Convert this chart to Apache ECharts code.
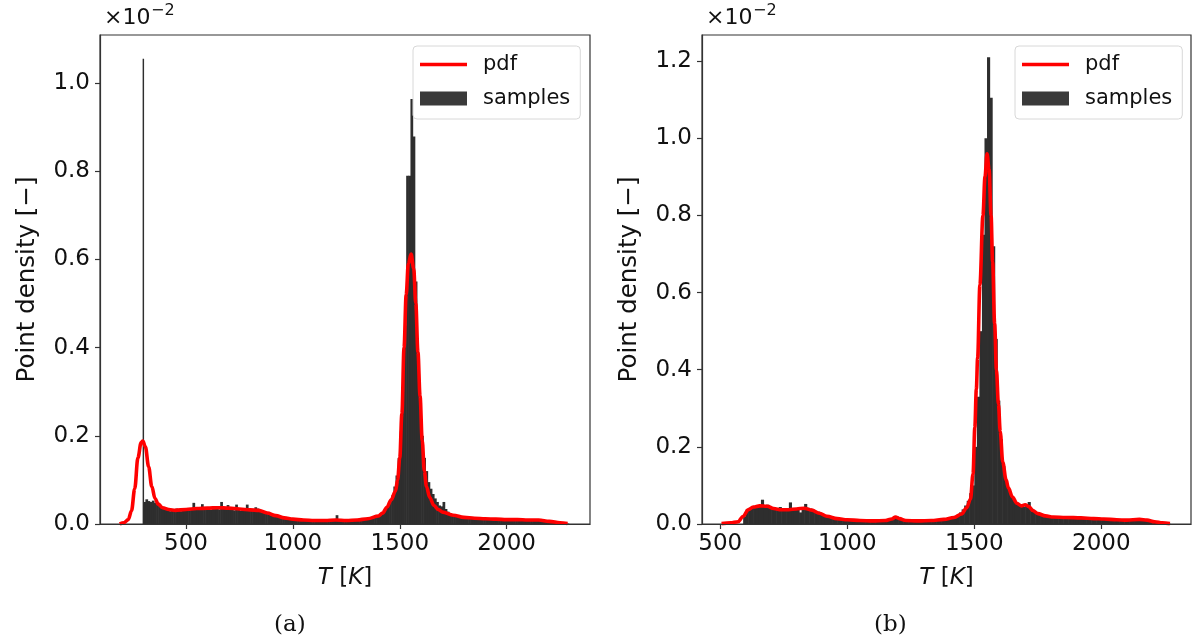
<!DOCTYPE html>
<html><head><meta charset="utf-8">
<script src="https://cdn.jsdelivr.net/npm/echarts@6/dist/echarts.min.js"></script>
<style>html,body{margin:0;padding:0;background:#fff}#c{width:1200px;height:644px}</style>
</head><body><div id="c"></div>
<script>
// ---------- data (values in units of 1e-2) ----------
const xTicksA = [500, 1000, 1500, 2000];
const xTicksB = [500, 1000, 1500, 2000];
const yTicksA = [0, 0.2, 0.4, 0.6, 0.8, 1.0];
const yTicksB = [0, 0.2, 0.4, 0.6, 0.8, 1.0, 1.2];

// panel (a) histogram: bins of 10 K starting at 300 K
const binStartA = 300, binWidthA = 10;
const samplesA = [
 0.05,0.056,0.052,0.05,0.053,0.048,0.045,0.04,0.038,0.036,
 0.032,0.03,0.029,0.03,0.031,0.035,0.03,0.029,0.03,0.031,
 0.033,0.031,0.036,0.048,0.033,0.032,0.036,0.045,0.034,0.033,
 0.035,0.032,0.036,0.034,0.035,0.033,0.05,0.036,0.034,0.043,
 0.036,0.033,0.031,0.044,0.032,0.03,0.031,0.034,0.044,0.031,
 0.03,0.032,0.038,0.035,0.029,0.027,0.026,0.024,0.022,0.02,
 0.019,0.018,0.016,0.015,0.014,0.013,0.012,0.012,0.011,0.011,
 0.01,0.01,0.009,0.009,0.009,0.008,0.008,0.008,0.008,0.008,
 0.008,0.008,0.007,0.008,0.008,0.008,0.008,0.008,0.009,0.009,
 0.02,0.01,0.009,0.008,0.008,0.008,0.008,0.009,0.009,0.009,
 0.009,0.01,0.01,0.011,0.011,0.012,0.013,0.014,0.016,0.017,
 0.019,0.022,0.026,0.032,0.04,0.05,0.065,0.085,0.11,0.15,
 0.21,0.3,0.45,0.79,0.79,0.964,0.879,0.55,0.38,0.27,
 0.2,0.15,0.12,0.095,0.08,0.068,0.058,0.05,0.042,0.04,
 0.05,0.034,0.028,0.025,0.022,0.02,0.019,0.017,0.016,0.015,
 0.014,0.014,0.013,0.013,0.012,0.012,0.012,0.012,0.011,0.011,
 0.011,0.011,0.011,0.01,0.01,0.01,0.01,0.01,0.01,0.01,
 0.01,0.01,0.01,0.01,0.009,0.009,0.009,0.009,0.009,0.009,
 0.009,0.009,0.009,0.009,0.009,0.009,0.008,0.007,0.007,0.006,
 0.005,0.005,0.004,0.004,0.003,0.003,0.002,0.002,0.001
];
// the narrow spike at room temperature: [from K, to K, height]
const spikeA = [297, 301, 1.055];

// panel (a) pdf
const pdfTA = [190,210,230,245,260,275,290,298,310,325,340,355,370,390,420,450,500,550,600,650,
 700,750,800,840,880,920,960,1000,1050,1100,1150,1200,1250,1300,1350,1400,1420,1440,1460,1480,
 1490,1500,1510,1520,1530,1540,1553,1565,1575,1585,1595,1605,1615,1625,1640,1660,1680,1700,
 1750,1800,1850,1900,1950,2000,2050,2100,2150,2200,2250,2285];
const pdfVA = [0,0.003,0.01,0.03,0.08,0.15,0.185,0.188,0.175,0.13,0.085,0.058,0.045,0.037,0.033,0.031,0.033,0.035,0.036,0.037,
 0.036,0.034,0.032,0.031,0.025,0.019,0.014,0.011,0.009,0.008,0.008,0.009,0.008,0.009,0.012,0.018,0.025,0.038,0.055,0.075,
 0.1,0.15,0.25,0.40,0.52,0.59,0.612,0.58,0.50,0.39,0.29,0.19,0.12,0.085,0.06,0.042,0.033,0.027,
 0.02,0.015,0.013,0.012,0.011,0.010,0.010,0.009,0.009,0.006,0.003,0.001];

// panel (b) histogram: bins of 10 K starting at 590 K
const binStartB = 590, binWidthB = 10;
const samplesB = [
 0.02,0.038,0.042,0.044,0.045,0.046,0.047,0.063,0.046,0.05,
 0.043,0.042,0.04,0.038,0.044,0.036,0.038,0.037,0.056,0.036,
 0.038,0.04,0.03,0.039,0.052,0.042,0.04,0.037,0.034,0.032,
 0.028,0.025,0.022,0.02,0.018,0.016,0.015,0.014,0.013,0.012,
 0.011,0.011,0.01,0.01,0.01,0.009,0.009,0.009,0.009,0.008,
 0.008,0.008,0.008,0.008,0.008,0.008,0.009,0.01,0.012,0.016,
 0.02,0.015,0.011,0.009,0.008,0.008,0.008,0.008,0.008,0.008,
 0.008,0.008,0.009,0.009,0.009,0.01,0.01,0.011,0.012,0.013,
 0.014,0.016,0.018,0.02,0.024,0.03,0.038,0.048,0.06,0.08,
 0.1,0.2,0.33,0.5,0.75,1.0,1.21,1.105,0.72,0.48,
 0.32,0.22,0.15,0.11,0.09,0.075,0.065,0.055,0.05,0.048,
 0.045,0.05,0.057,0.04,0.032,0.028,0.025,0.022,0.02,0.019,
 0.018,0.018,0.017,0.017,0.017,0.017,0.016,0.016,0.016,0.016,
 0.016,0.016,0.015,0.015,0.015,0.014,0.014,0.014,0.013,0.013,
 0.013,0.013,0.012,0.012,0.012,0.011,0.011,0.011,0.01,0.01,
 0.01,0.01,0.01,0.011,0.012,0.012,0.012,0.011,0.01,0.009,
 0.008,0.006,0.005,0.004,0.003,0.002,0.002,0.001
];

// panel (b) pdf
const pdfTB = [505,540,570,590,610,630,655,685,710,740,770,800,830,860,890,920,960,1000,1050,1100,
 1150,1175,1190,1205,1230,1280,1330,1380,1420,1450,1470,1485,1495,1502,1508,1513,1522,1534,1542,1550,
 1558,1566,1572,1580,1587,1595,1602,1612,1625,1634,1650,1667,1685,1700,1715,1730,1750,1780,1810,1860,
 1920,1970,2010,2060,2100,2150,2180,2210,2240,2270];
const pdfVB = [0.001,0.003,0.006,0.02,0.037,0.044,0.047,0.046,0.04,0.037,0.037,0.039,0.041,0.036,0.028,0.02,0.014,0.011,0.009,0.008,
 0.009,0.013,0.018,0.014,0.009,0.008,0.009,0.012,0.017,0.026,0.042,0.065,0.13,0.25,0.35,0.43,0.62,0.80,0.90,0.96,
 0.92,0.80,0.68,0.52,0.40,0.31,0.24,0.16,0.115,0.094,0.07,0.054,0.047,0.05,0.045,0.035,0.027,0.021,0.018,0.017,
 0.016,0.014,0.013,0.011,0.01,0.012,0.01,0.006,0.003,0.001];

// ---------- helpers ----------
function bins(start, width, h) { return h.map((v, i) => [start + i * width, start + (i + 1) * width, v]); }
function pairs(t, v) { return t.map((x, i) => [x, v[i]]); }
const FONT = 'DejaVu Sans';
const BAR = '#2e2e2e';
function renderBar(params, api) {
  const p0 = api.coord([api.value(0), 0]);
  const p1 = api.coord([api.value(1), api.value(2)]);
  return { type: 'rect', shape: { x: p0[0], y: p1[1], width: Math.max(p1[0] - p0[0] + 0.6, 1.2), height: p0[1] - p1[1] },
           style: { fill: BAR } };
}
function xAxis(gi, min, max, ticks) {
  return { gridIndex: gi, type: 'value', min: min, max: max, z: 5,
    name: '{i|T} [{i|K}]', nameLocation: 'middle', nameGap: 43,
    nameTextStyle: { fontFamily: FONT, fontSize: 23, color: '#111',
      rich: { i: { fontFamily: FONT, fontSize: 23, fontStyle: 'italic', color: '#111' } } },
    axisLine: { show: true, onZero: false, lineStyle: { color: '#333', width: 1.2 } },
    axisTick: { show: true, length: 5, customValues: ticks, lineStyle: { color: '#333', width: 1.2 } },
    axisLabel: { customValues: ticks, margin: 9, fontFamily: FONT, fontSize: 23, color: '#111',
      formatter: v => String(v) },
    splitLine: { show: false } };
}
function yAxis(gi, max, ticks) {
  return { gridIndex: gi, type: 'value', min: 0, max: max, z: 5,
    name: 'Point density [\u2212]', nameLocation: 'middle', nameGap: 60, nameRotate: 90,
    nameTextStyle: { fontFamily: FONT, fontSize: 24.5, color: '#111' },
    axisLine: { show: true, onZero: false, lineStyle: { color: '#333', width: 1.2 } },
    axisTick: { show: true, length: 5, customValues: ticks, lineStyle: { color: '#333', width: 1.2 } },
    axisLabel: { customValues: ticks, margin: 10, fontFamily: FONT, fontSize: 23, color: '#111',
      formatter: v => v.toFixed(1) },
    splitLine: { show: false } };
}
const LINE_ICON = 'path://M0,0 L47,0 L47,3.6 L0,3.6 Z';
function legend(left) {
  return { left: left, top: 46, orient: 'vertical', itemWidth: 47, itemHeight: 14, itemGap: 9,
    padding: [6, 10, 8, 7], borderColor: '#d8d8d8', borderWidth: 1, borderRadius: 4,
    backgroundColor: 'rgba(255,255,255,0.8)', z: 10,
    textStyle: { fontFamily: FONT, fontSize: 21, color: '#111', lineHeight: 25, padding: [0, 0, 0, 11] },
    data: [{ name: 'pdf', icon: LINE_ICON, itemStyle: { color: '#ff0000' } },
           { name: 'samples', icon: 'rect', itemStyle: { color: '#3a3a3a' } }] };
}

const chart = echarts.init(document.getElementById('c'), null, { renderer: 'canvas' });
chart.setOption({
  animation: false,
  backgroundColor: '#fff',
  grid: [
    { left: 100, right: 610, top: 35, bottom: 120, show: true, borderColor: '#333', borderWidth: 1.2, backgroundColor: 'transparent' },
    { left: 702, right: 9, top: 35, bottom: 120, show: true, borderColor: '#333', borderWidth: 1.2, backgroundColor: 'transparent' }
  ],
  xAxis: [xAxis(0, 97.6, 2390, xTicksA), xAxis(1, 428, 2353, xTicksB)],
  yAxis: [yAxis(0, 1.109, yTicksA), yAxis(1, 1.268, yTicksB)],
  legend: [legend(413), legend(1015)],
  series: [
    { name: 'samples', type: 'custom', xAxisIndex: 0, yAxisIndex: 0, renderItem: renderBar, clip: true,
      itemStyle: { color: '#3a3a3a' }, encode: { x: [0, 1], y: 2 },
      data: bins(binStartA, binWidthA, samplesA).concat([spikeA]), z: 2 },
    { name: 'pdf', type: 'line', xAxisIndex: 0, yAxisIndex: 0, data: pairs(pdfTA, pdfVA),
      smooth: 0.35, smoothMonotone: 'x', symbol: 'none', z: 4,
      lineStyle: { color: '#ff0000', width: 3.6 }, itemStyle: { color: '#ff0000' } },
    { name: 'samples', type: 'custom', xAxisIndex: 1, yAxisIndex: 1, renderItem: renderBar, clip: true,
      itemStyle: { color: '#3a3a3a' }, encode: { x: [0, 1], y: 2 },
      data: bins(binStartB, binWidthB, samplesB), z: 2 },
    { name: 'pdf', type: 'line', xAxisIndex: 1, yAxisIndex: 1, data: pairs(pdfTB, pdfVB),
      smooth: 0.35, smoothMonotone: 'x', symbol: 'none', z: 4,
      lineStyle: { color: '#ff0000', width: 3.6 }, itemStyle: { color: '#ff0000' } }
  ],
  graphic: [
    { type: 'text', left: 104, top: 7, style: { text: '\u00d710', font: '22px "DejaVu Sans"', fill: '#111' } },
    { type: 'text', left: 151, top: 3, style: { text: '\u22122', font: '16px "DejaVu Sans"', fill: '#111' } },
    { type: 'text', left: 706, top: 7, style: { text: '\u00d710', font: '22px "DejaVu Sans"', fill: '#111' } },
    { type: 'text', left: 753, top: 3, style: { text: '\u22122', font: '16px "DejaVu Sans"', fill: '#111' } },
    { type: 'text', left: 274, top: 614, style: { text: '(a)', font: '23px "DejaVu Serif"', fill: '#111' } },
    { type: 'text', left: 874, top: 614, style: { text: '(b)', font: '23px "DejaVu Serif"', fill: '#111' } }
  ]
});
</script></body></html>
